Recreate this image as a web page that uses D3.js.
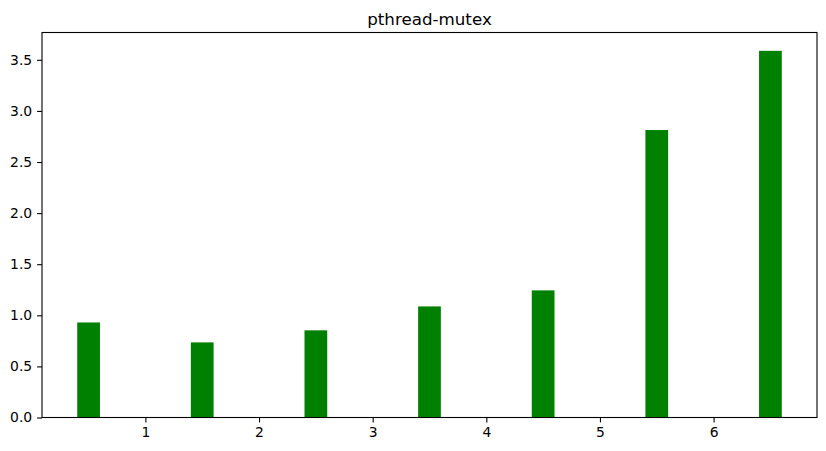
<!DOCTYPE html>
<html><head><meta charset="utf-8">
<script src="https://cdn.jsdelivr.net/npm/d3@7/dist/d3.min.js"></script>
<style>body{margin:0;background:#fff}svg{display:block}text{font-family:"DejaVu Sans",sans-serif}</style>
</head><body><svg id="c" width="826" height="451"></svg>
<script>
const title = "pthread-mutex";
const positions = [0.5, 1.5, 2.5, 3.5, 4.5, 5.5, 6.5];
const values = [0.93, 0.735, 0.853, 1.087, 1.244, 2.813, 3.588];
const xTicks = [1, 2, 3, 4, 5, 6];
const yTicks = [0, 0.5, 1.0, 1.5, 2.0, 2.5, 3.0, 3.5];
const barWidth = 0.2;

const W = 826, H = 451;
const m = {left: 42, right: 826 - 817, top: 32.5, bottom: 451 - 417.5};
const svg = d3.select("#c");
const x0 = d3.min(positions) - barWidth / 2, x1 = d3.max(positions) + barWidth / 2;
const xpad = (x1 - x0) * 0.05;
const x = d3.scaleLinear().domain([x0 - xpad, x1 + xpad]).range([m.left, W - m.right]);
const y = d3.scaleLinear().domain([0, d3.max(values) * 1.05]).range([H - m.bottom, m.top]);

svg.append("g").selectAll("rect").data(positions).join("rect")
  .attr("x", d => x(d - barWidth / 2))
  .attr("width", d => x(d + barWidth / 2) - x(d - barWidth / 2))
  .attr("y", (d, i) => y(values[i]))
  .attr("height", (d, i) => y(0) - y(values[i]))
  .attr("fill", "green");

const xa = svg.append("g").attr("transform", `translate(0,${H - m.bottom})`)
  .call(d3.axisBottom(x).tickValues(xTicks).tickFormat(d3.format("d")).tickSizeOuter(0).tickSize(4.9).tickPadding(4.9));
const ya = svg.append("g").attr("transform", `translate(${m.left},0)`)
  .call(d3.axisLeft(y).tickValues(yTicks).tickFormat(d3.format(".1f")).tickSizeOuter(0).tickSize(4.9).tickPadding(4.9));
[xa, ya].forEach(a => {
  a.select(".domain").remove();
  a.selectAll("line").attr("stroke", "#000").attr("stroke-width", 1.1);
  a.selectAll("text").attr("font-size", "13.9px").attr("fill", "#000").style("font-family", '"DejaVu Sans",sans-serif');
});

svg.append("rect").attr("x", m.left).attr("y", m.top)
  .attr("width", W - m.right - m.left).attr("height", H - m.bottom - m.top)
  .attr("fill", "none").attr("stroke", "#000").attr("stroke-width", 1.1);

svg.append("text").attr("x", (m.left + W - m.right) / 2).attr("y", m.top - 8)
  .attr("text-anchor", "middle").attr("font-size", "16.7px").attr("fill", "#000").text(title);
</script></body></html>
